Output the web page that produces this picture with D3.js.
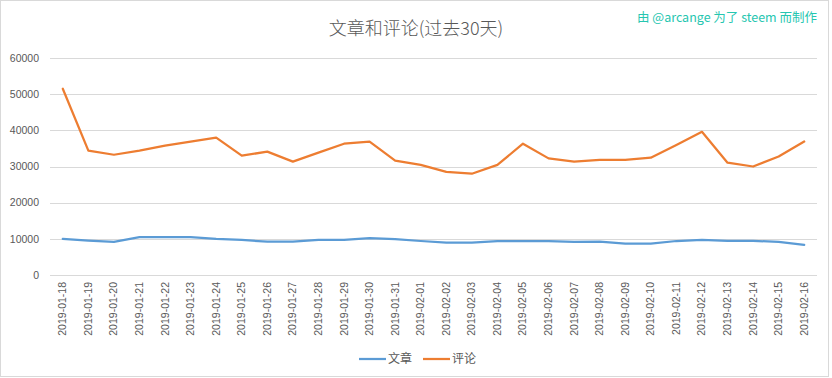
<!DOCTYPE html>
<html lang="zh">
<head>
<meta charset="UTF-8">
<title>文章和评论(过去30天)</title>
<script src="https://d3js.org/d3.v7.min.js"></script>
<style>
  body { margin: 0; background: #fff; }
  svg { display: block; font-family: "Liberation Sans", "Noto Sans CJK SC", sans-serif; }
  .grid line { stroke: #d9d9d9; stroke-width: 1; shape-rendering: crispEdges; }
  .tick-label { fill: #595959; font-size: 10.5px; }
  .series { fill: none; stroke-width: 2.25; stroke-linejoin: round; stroke-linecap: round; }
</style>
</head>
<body>
<svg id="chart" width="832" height="378"></svg>
<script>
var dates = ["2019-01-18","2019-01-19","2019-01-20","2019-01-21","2019-01-22","2019-01-23","2019-01-24",
  "2019-01-25","2019-01-26","2019-01-27","2019-01-28","2019-01-29","2019-01-30","2019-01-31",
  "2019-02-01","2019-02-02","2019-02-03","2019-02-04","2019-02-05","2019-02-06","2019-02-07",
  "2019-02-08","2019-02-09","2019-02-10","2019-02-11","2019-02-12","2019-02-13","2019-02-14",
  "2019-02-15","2019-02-16"];

// 文章
var posts = [10000, 9500, 9150, 10500, 10500, 10500, 10000, 9700, 9200, 9200, 9700, 9700, 10200, 9950,
  9400, 8950, 8950, 9400, 9400, 9400, 9150, 9200, 8650, 8650, 9400, 9700, 9450, 9450, 9150, 8300];

// 评论
var comments = [51500, 34400, 33250, 34400, 35800, 36900, 38000, 33000, 34100, 31350, 33850, 36300, 36900, 31650,
  30450, 28500, 28000, 30450, 36300, 32250, 31350, 31850, 31850, 32450, 35950, 39600, 31050, 30000, 32750, 36900];

var yTicks = [0, 10000, 20000, 30000, 40000, 50000, 60000];

var series = [
  { name: "文章", values: posts, color: "#5b9bd5" },
  { name: "评论", values: comments, color: "#ed7d31" }
];

var svg = d3.select("#chart");

// outer frame
svg.append("rect")
  .attr("x", 0.5).attr("y", 0.5)
  .attr("width", 828).attr("height", 376)
  .attr("fill", "#fff").attr("stroke", "#d9d9d9");

var plot = { left: 50, right: 817, top: 58, bottom: 275 };

var x = d3.scaleBand().domain(dates).range([plot.left, plot.right]);
var y = d3.scaleLinear().domain([0, 60000]).range([plot.bottom, plot.top]);

// gridlines
svg.append("g").attr("class", "grid")
  .selectAll("line").data(yTicks).enter().append("line")
  .attr("x1", plot.left).attr("x2", plot.right)
  .attr("y1", function(d) { return Math.round(y(d)) + 0.5; })
  .attr("y2", function(d) { return Math.round(y(d)) + 0.5; });

// y labels
svg.append("g").selectAll("text").data(yTicks).enter().append("text")
  .attr("class", "tick-label")
  .attr("x", 39)
  .attr("y", function(d) { return y(d); })
  .attr("dy", "0.35em")
  .attr("text-anchor", "end")
  .text(function(d) { return d; });

// x labels, rotated
svg.append("g").selectAll("text").data(dates).enter().append("text")
  .attr("class", "tick-label")
  .attr("transform", function(d) {
    return "translate(" + (x(d) + x.bandwidth() / 2 + 3.5) + "," + 282 + ") rotate(-90)";
  })
  .attr("text-anchor", "end")
  .text(function(d) { return d; });

var line = d3.line()
  .x(function(d, i) { return x(dates[i]) + x.bandwidth() / 2; })
  .y(function(d) { return y(d); });

svg.append("g").selectAll("path").data(series).enter().append("path")
  .attr("class", "series")
  .attr("stroke", function(d) { return d.color; })
  .attr("d", function(d) { return line(d.values); });

// title
svg.append("text")
  .attr("x", 416).attr("y", 35)
  .attr("text-anchor", "middle")
  .attr("fill", "#595959")
  .style("font-family", "'Noto Sans CJK SC', sans-serif")
  .style("font-size", "18px")
  .style("font-weight", 300)
  .text("文章和评论(过去30天)");

// watermark
svg.append("text")
  .attr("x", 817).attr("y", 22)
  .attr("text-anchor", "end")
  .attr("fill", "#26c6b0")
  .style("font-family", "'Noto Sans CJK SC', sans-serif")
  .style("font-size", "12.5px")
  .text("由 @arcange 为了 steem 而制作");

// legend
var legendX = [359, 423];
var lg = svg.append("g").selectAll("g").data(series).enter().append("g")
  .attr("transform", function(d, i) { return "translate(" + legendX[i] + ",359)"; });
lg.append("line")
  .attr("x1", 0).attr("x2", 27).attr("y1", 0).attr("y2", 0)
  .attr("stroke", function(d) { return d.color; })
  .attr("stroke-width", 2.25);
lg.append("text")
  .attr("x", 29).attr("dy", "0.35em")
  .attr("fill", "#595959")
  .style("font-family", "'Noto Sans CJK SC', sans-serif")
  .style("font-size", "12px")
  .text(function(d) { return d.name; });
</script>
</body>
</html>
